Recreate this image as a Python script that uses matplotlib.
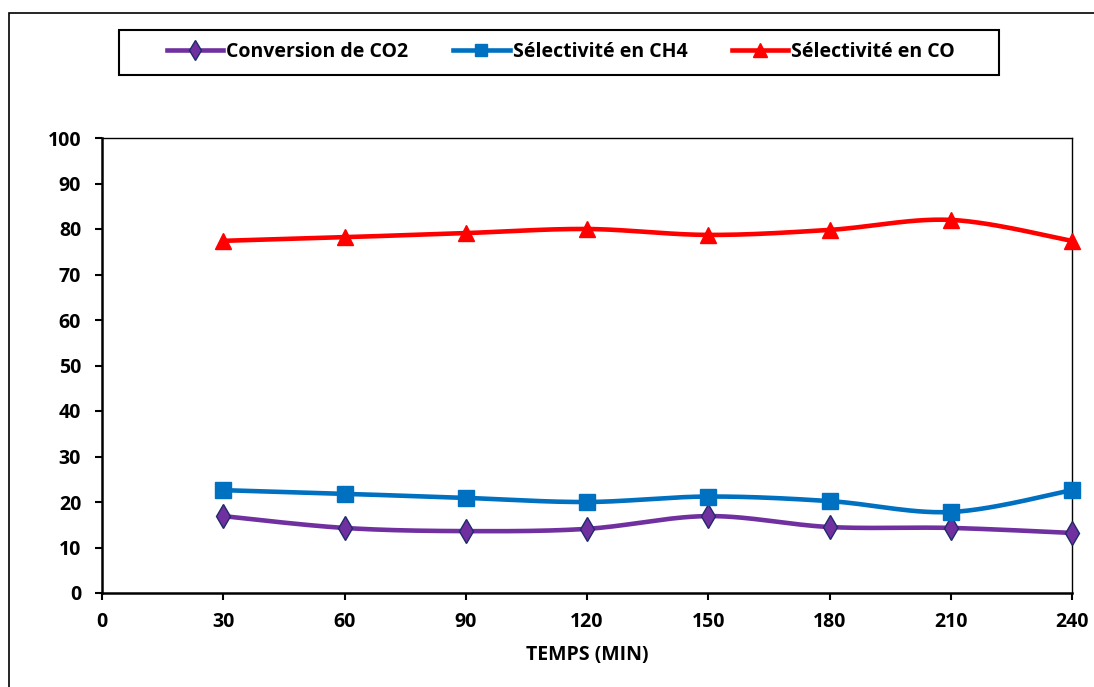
import matplotlib
matplotlib.use("Agg")
import matplotlib.pyplot as plt
import numpy as np
from matplotlib.patches import Rectangle

plt.rcParams["font.family"] = ["Open Sans", "DejaVu Sans"]
plt.rcParams["font.weight"] = "bold"

temps = [30, 60, 90, 120, 150, 180, 210, 240]
conversion_co2 = [16.9, 14.3, 13.6, 14.1, 16.9, 14.5, 14.3, 13.2]
select_ch4 = [22.6, 21.8, 20.9, 20.0, 21.2, 20.2, 17.8, 22.6]
select_co = [77.4, 78.2, 79.1, 80.0, 78.7, 79.8, 82.0, 77.4]

series = [
    ("Conversion de CO2", conversion_co2, "#7030A0", "d", 12, "#1F2A6B"),
    ("Sélectivité en CH4", select_ch4, "#0070C0", "s", 11, "#0070C0"),
    ("Sélectivité en CO", select_co, "#FF0000", "^", 12, "#FF0000"),
]


def smooth(x, y, n=30):
    # Excel-like smoothed line (Bezier with 1/6 control points)
    x = np.asarray(x, float)
    y = np.asarray(y, float)
    px = np.concatenate([[x[0]], x, [x[-1]]])
    py = np.concatenate([[y[0]], y, [y[-1]]])
    xs, ys = [], []
    t = np.linspace(0, 1, n)
    for i in range(1, len(px) - 2):
        p0 = np.array([px[i], py[i]])
        p3 = np.array([px[i + 1], py[i + 1]])
        p1 = p0 + (np.array([px[i + 1], py[i + 1]]) - np.array([px[i - 1], py[i - 1]])) / 6
        p2 = p3 - (np.array([px[i + 2], py[i + 2]]) - np.array([px[i], py[i]])) / 6
        b = ((1 - t) ** 3)[:, None] * p0 + (3 * (1 - t) ** 2 * t)[:, None] * p1 \
            + (3 * (1 - t) * t ** 2)[:, None] * p2 + (t ** 3)[:, None] * p3
        xs.append(b[:, 0])
        ys.append(b[:, 1])
    return np.concatenate(xs), np.concatenate(ys)


fig = plt.figure(figsize=(10.94, 6.87), dpi=100)
ax = fig.add_axes([102 / 1094, 1 - 593 / 687, 970 / 1094, 455 / 687])

handles = []
for label, vals, color, marker, ms, edge in series:
    sx, sy = smooth(temps, vals)
    ax.plot(sx, sy, color=color, lw=3.3, zorder=2, clip_on=False)
    ax.plot(temps, vals, ls="none", marker=marker, ms=ms, mfc=color,
            mec=edge, mew=1.0, zorder=3, clip_on=False)
    h, = ax.plot([], [], color=color, lw=3.3, marker=marker, ms=ms * 0.85,
                 mfc=color, mec=edge, mew=1.0)
    h.set_label(label)
    handles.append(h)

ax.set_xlim(0, 240)
ax.set_ylim(0, 100)
ax.set_xticks(range(0, 241, 30))
ax.set_yticks(range(0, 101, 10))
ax.tick_params(direction="out", length=5, width=1.5, labelsize=14)
ax.tick_params(axis="y", pad=10)
ax.tick_params(axis="x", pad=9)
for lab in ax.get_xticklabels() + ax.get_yticklabels():
    lab.set_fontweight("bold")
for side in ["left", "bottom"]:
    ax.spines[side].set_linewidth(1.8)
for side in ["top", "right"]:
    ax.spines[side].set_linewidth(1.0)
ax.set_xlabel("TEMPS (MIN)", fontsize=14, fontweight="bold", labelpad=9)

# legend box drawn separately, entries centred inside
fig.patches.append(Rectangle((119 / 1094, 1 - 75 / 687), 880 / 1094, 45 / 687,
                             transform=fig.transFigure, fill=False,
                             edgecolor="black", lw=1.5))
leg = fig.legend(handles=handles, loc="center", ncol=3,
                 bbox_to_anchor=(561 / 1094, 1 - 52 / 687),
                 fontsize=14, frameon=False,
                 handlelength=2.9, handletextpad=0.15, columnspacing=2.3)
for txt in leg.get_texts():
    txt.set_fontweight("bold")

fig.patches.append(Rectangle((9 / 1094, -0.05), 1.1, 1 - 13 / 687 + 0.05,
                             transform=fig.transFigure, fill=False,
                             edgecolor="black", lw=1.2))

fig.savefig("out.png", dpi=100)
